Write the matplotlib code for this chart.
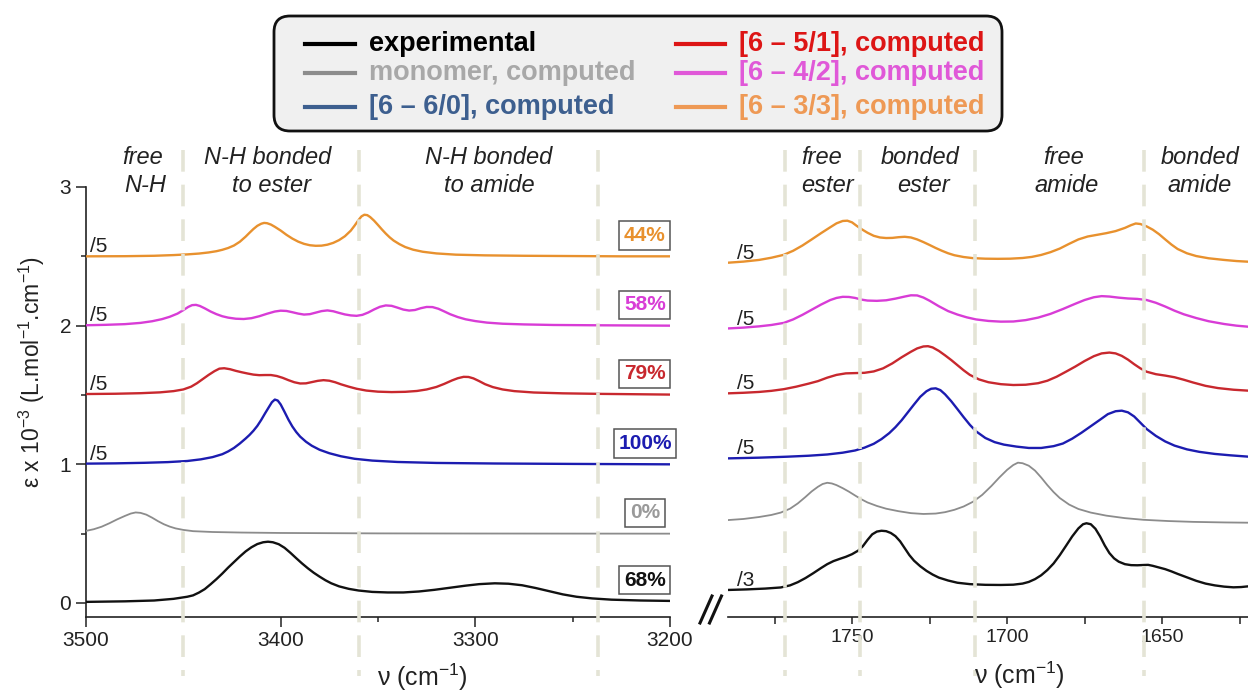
import matplotlib
matplotlib.use("Agg")
import matplotlib.pyplot as plt
from matplotlib.lines import Line2D
from matplotlib.patches import FancyBboxPatch
import matplotlib.transforms as mtransforms
from matplotlib.ticker import FixedLocator

plt.rcParams['font.family'] = ['Liberation Sans', 'DejaVu Sans']
plt.rcParams['mathtext.fontset'] = 'custom'
plt.rcParams['mathtext.rm'] = 'Liberation Sans'
plt.rcParams['mathtext.it'] = 'Liberation Sans:italic'
plt.rcParams['mathtext.bf'] = 'Liberation Sans:bold'

# ---------------- data: N-H stretching region (left panel) ----------------
nh_33_x = [3500, 3480, 3465, 3455, 3448, 3442, 3437, 3433, 3430, 3427, 3424, 3421, 3418, 3416,
           3414, 3412, 3410, 3408.5, 3407, 3405, 3403, 3400, 3397, 3394, 3391, 3388, 3385, 3382,
           3379, 3376, 3373, 3370, 3367, 3364, 3362, 3360, 3358.5, 3357, 3355.5, 3354, 3352,
           3350, 3348, 3346, 3344, 3342, 3339, 3336, 3332, 3327, 3320, 3310, 3295, 3275, 3250,
           3225, 3200]
nh_33_y = [2.500, 2.501, 2.504, 2.509, 2.514, 2.520, 2.528, 2.537, 2.547, 2.560, 2.578, 2.605,
           2.642, 2.670, 2.697, 2.720, 2.735, 2.741, 2.739, 2.729, 2.713, 2.686, 2.655, 2.628,
           2.606, 2.590, 2.580, 2.576, 2.577, 2.584, 2.597, 2.617, 2.645, 2.685, 2.722, 2.762,
           2.788, 2.800, 2.797, 2.783, 2.757, 2.726, 2.694, 2.664, 2.637, 2.614, 2.588, 2.567,
           2.548, 2.533, 2.521, 2.512, 2.507, 2.504, 2.502, 2.500, 2.500]

nh_42_x = [3500, 3490, 3480, 3472, 3466, 3461, 3457, 3453, 3450, 3447.5, 3445.5, 3443.5, 3441.5,
           3439, 3436, 3433, 3430, 3427, 3423, 3419, 3415, 3411, 3407, 3403, 3400, 3397, 3394,
           3391, 3388, 3385, 3382, 3379, 3376, 3373, 3370, 3367, 3364, 3361, 3358, 3355, 3352,
           3349, 3346, 3343, 3340, 3337, 3334, 3331, 3328, 3325, 3322, 3319, 3316, 3313, 3309,
           3305, 3300, 3294, 3286, 3275, 3260, 3240, 3200]
nh_42_y = [2.003, 2.006, 2.011, 2.020, 2.032, 2.047, 2.064, 2.087, 2.112, 2.135, 2.148, 2.150,
           2.142, 2.125, 2.102, 2.083, 2.068, 2.058, 2.050, 2.048, 2.054, 2.068, 2.086, 2.102,
           2.108, 2.106, 2.097, 2.087, 2.080, 2.083, 2.094, 2.105, 2.110, 2.104, 2.092, 2.081,
           2.074, 2.071, 2.078, 2.095, 2.117, 2.136, 2.146, 2.143, 2.130, 2.116, 2.109, 2.113,
           2.126, 2.135, 2.134, 2.122, 2.103, 2.083, 2.062, 2.046, 2.033, 2.022, 2.014, 2.009,
           2.005, 2.003, 2.000]

nh_51_x = [3500, 3485, 3472, 3462, 3455, 3450, 3446, 3443, 3440, 3437, 3434, 3431.5, 3429, 3426,
           3423, 3420, 3417, 3414, 3411, 3408, 3405, 3402, 3399, 3396, 3393, 3390, 3387, 3384,
           3381, 3378, 3375, 3372, 3369, 3365, 3361, 3356, 3350, 3343, 3336, 3330, 3325, 3320,
           3316, 3312, 3309, 3306, 3303.5, 3301, 3298, 3295, 3291, 3286, 3280, 3270, 3255, 3235,
           3200]
nh_51_y = [1.507, 1.509, 1.513, 1.519, 1.528, 1.540, 1.560, 1.585, 1.615, 1.645, 1.672, 1.690,
           1.693, 1.686, 1.674, 1.664, 1.655, 1.647, 1.643, 1.644, 1.644, 1.637, 1.624, 1.607,
           1.592, 1.583, 1.584, 1.593, 1.602, 1.607, 1.603, 1.592, 1.577, 1.560, 1.545, 1.532,
           1.524, 1.521, 1.523, 1.529, 1.540, 1.558, 1.580, 1.605, 1.621, 1.631, 1.630, 1.620,
           1.600, 1.578, 1.557, 1.540, 1.528, 1.518, 1.512, 1.508, 1.503]

nh_60_x = [3500, 3485, 3470, 3458, 3448, 3441, 3435, 3430, 3427, 3424, 3421, 3418, 3416, 3414,
           3412, 3410, 3408, 3406, 3404.5, 3403, 3401.5, 3400, 3398, 3396, 3394, 3392, 3390,
           3387, 3384, 3380, 3375, 3369, 3362, 3353, 3340, 3320, 3290, 3250, 3200]
nh_60_y = [1.005, 1.007, 1.011, 1.016, 1.024, 1.036, 1.052, 1.073, 1.093, 1.118, 1.150, 1.186,
           1.212, 1.242, 1.277, 1.320, 1.368, 1.414, 1.448, 1.467, 1.460, 1.432, 1.378, 1.322,
           1.273, 1.233, 1.200, 1.163, 1.134, 1.105, 1.080, 1.058, 1.040, 1.027, 1.017, 1.010,
           1.006, 1.003, 1.000]

nh_mono_x = [3500, 3496, 3492, 3488, 3484, 3480, 3477, 3474.5, 3472, 3469, 3466, 3463, 3460,
             3457, 3454, 3450, 3445, 3435, 3420, 3400, 3350, 3300, 3200]
nh_mono_y = [0.520, 0.532, 0.550, 0.575, 0.603, 0.628, 0.645, 0.653, 0.650, 0.637, 0.615, 0.590,
             0.568, 0.551, 0.538, 0.527, 0.518, 0.512, 0.508, 0.505, 0.502, 0.501, 0.500]

nh_exp_x = [3500, 3480, 3465, 3455, 3448, 3445, 3442, 3439, 3436, 3433, 3430, 3427, 3424, 3421,
            3418, 3415, 3412, 3409, 3406.5, 3404, 3401, 3398, 3395, 3392, 3389, 3386, 3383, 3380,
            3377, 3374, 3370, 3365, 3360, 3353, 3345, 3337, 3329, 3321, 3313, 3305, 3298, 3290,
            3283, 3276, 3269, 3262, 3255, 3248, 3240, 3230, 3215, 3200]
nh_exp_y = [0.008, 0.012, 0.018, 0.030, 0.045, 0.055, 0.075, 0.100, 0.135, 0.172, 0.212, 0.255,
            0.295, 0.335, 0.372, 0.402, 0.425, 0.438, 0.442, 0.438, 0.424, 0.398, 0.362, 0.323,
            0.285, 0.250, 0.218, 0.190, 0.164, 0.142, 0.120, 0.102, 0.090, 0.080, 0.076, 0.076,
            0.083, 0.095, 0.110, 0.125, 0.136, 0.142, 0.139, 0.128, 0.108, 0.085, 0.062, 0.045,
            0.033, 0.024, 0.018, 0.015]

# ---------------- data: C=O stretching region (right panel) ----------------
co_33_x = [1790, 1785, 1780, 1776, 1772, 1769, 1766, 1763, 1760, 1757, 1755, 1753, 1751.5, 1750,
           1748.5, 1747, 1745, 1743, 1741, 1739, 1737, 1735, 1733, 1731, 1729, 1727, 1725, 1723,
           1721, 1719, 1717, 1714, 1711, 1707, 1703, 1699, 1695, 1692, 1689, 1686, 1683, 1680,
           1677, 1674, 1671, 1668, 1665, 1662, 1660, 1658.5, 1657, 1655, 1653, 1651, 1649, 1647,
           1645, 1642, 1639, 1635, 1630, 1626, 1622]
co_33_y = [2.454, 2.462, 2.474, 2.490, 2.511, 2.540, 2.578, 2.622, 2.667, 2.710, 2.738, 2.755,
           2.757, 2.745, 2.720, 2.697, 2.670, 2.648, 2.636, 2.632, 2.633, 2.638, 2.641, 2.636,
           2.622, 2.603, 2.582, 2.560, 2.540, 2.522, 2.508, 2.495, 2.487, 2.483, 2.482, 2.483,
           2.488, 2.496, 2.510, 2.530, 2.556, 2.590, 2.622, 2.643, 2.655, 2.667, 2.682, 2.705,
           2.725, 2.737, 2.733, 2.716, 2.692, 2.660, 2.622, 2.585, 2.553, 2.522, 2.502, 2.486,
           2.474, 2.466, 2.461]

co_42_x = [1790, 1785, 1780, 1776, 1772, 1769, 1766, 1763, 1760, 1757, 1755, 1753, 1751, 1749,
           1747, 1745, 1742, 1739, 1736, 1733, 1731, 1729, 1727, 1725, 1722, 1719, 1716, 1713,
           1710, 1706, 1702, 1698, 1694, 1690, 1686, 1682, 1678, 1675, 1672, 1669.5, 1667, 1664,
           1661, 1658, 1655, 1652, 1649, 1646, 1643, 1639, 1635, 1630, 1626, 1622]
co_42_y = [1.980, 1.986, 1.995, 2.005, 2.020, 2.045, 2.078, 2.115, 2.152, 2.185, 2.200, 2.208,
           2.207, 2.200, 2.188, 2.181, 2.179, 2.183, 2.195, 2.210, 2.219, 2.218, 2.203, 2.180,
           2.140, 2.105, 2.080, 2.060, 2.045, 2.034, 2.029, 2.030, 2.040, 2.058, 2.085, 2.120,
           2.158, 2.185, 2.205, 2.213, 2.210, 2.202, 2.196, 2.193, 2.185, 2.165, 2.138, 2.108,
           2.082, 2.055, 2.032, 2.012, 2.000, 1.992]

co_51_x = [1790, 1785, 1780, 1776, 1772, 1768, 1764, 1761, 1758, 1755, 1752, 1749, 1746, 1743,
           1740, 1737, 1734, 1731, 1729, 1727, 1725.5, 1724, 1722, 1720, 1718, 1716, 1714, 1712,
           1709, 1706, 1702, 1698, 1694, 1690, 1687, 1684, 1681, 1678, 1675, 1672, 1669.5, 1667,
           1665, 1663, 1661, 1659, 1657, 1655, 1652, 1649, 1646, 1643, 1640, 1636, 1632, 1627,
           1622]
co_51_y = [1.512, 1.516, 1.522, 1.530, 1.542, 1.560, 1.582, 1.600, 1.625, 1.645, 1.656, 1.658,
           1.660, 1.670, 1.692, 1.728, 1.772, 1.812, 1.836, 1.850, 1.852, 1.843, 1.818, 1.786,
           1.752, 1.715, 1.678, 1.645, 1.612, 1.592, 1.578, 1.572, 1.574, 1.585, 1.603, 1.632,
           1.668, 1.705, 1.745, 1.780, 1.800, 1.806, 1.800, 1.782, 1.755, 1.722, 1.692, 1.668,
           1.650, 1.640, 1.628, 1.610, 1.590, 1.566, 1.550, 1.538, 1.531]

co_60_x = [1790, 1780, 1771, 1764, 1758, 1753, 1749, 1746, 1743, 1740.5, 1738, 1736, 1734, 1732,
           1730, 1728, 1726, 1724.5, 1723, 1721.5, 1720, 1718, 1716, 1714, 1712, 1710, 1707,
           1704, 1701, 1697, 1693, 1689, 1685, 1682, 1679, 1676, 1673, 1670, 1667.5, 1665, 1663,
           1661, 1659, 1657, 1655, 1652, 1649, 1646, 1642, 1638, 1633, 1628, 1622]
co_60_y = [1.043, 1.048, 1.055, 1.062, 1.071, 1.084, 1.100, 1.120, 1.148, 1.182, 1.225, 1.268,
           1.318, 1.375, 1.432, 1.487, 1.527, 1.545, 1.548, 1.535, 1.505, 1.455, 1.398, 1.340,
           1.285, 1.238, 1.190, 1.160, 1.142, 1.128, 1.118, 1.118, 1.131, 1.150, 1.185, 1.228,
           1.275, 1.322, 1.362, 1.383, 1.387, 1.375, 1.345, 1.300, 1.255, 1.205, 1.165, 1.135,
           1.108, 1.090, 1.075, 1.065, 1.055]

co_mono_x = [1790, 1785, 1780, 1776, 1773, 1770, 1767.5, 1765, 1763, 1761, 1759.5, 1758, 1756.5,
             1755, 1753, 1751, 1749, 1747, 1745, 1742, 1739, 1735, 1731, 1727, 1723, 1720, 1717,
             1714, 1711, 1708, 1705, 1702.5, 1700, 1698, 1696.5, 1695, 1693, 1691, 1689, 1687,
             1685, 1683, 1680, 1677, 1673, 1668, 1662, 1656, 1648, 1640, 1630, 1622]
co_mono_y = [0.598, 0.606, 0.620, 0.635, 0.652, 0.680, 0.718, 0.765, 0.805, 0.838, 0.858, 0.867,
             0.862, 0.850, 0.828, 0.803, 0.775, 0.748, 0.725, 0.700, 0.680, 0.662, 0.648, 0.642,
             0.645, 0.655, 0.672, 0.696, 0.730, 0.780, 0.845, 0.905, 0.960, 0.995, 1.012, 1.008,
             0.990, 0.955, 0.905, 0.850, 0.800, 0.757, 0.710, 0.678, 0.652, 0.630, 0.612, 0.600,
             0.591, 0.585, 0.581, 0.579]

co_exp_x = [1790, 1784, 1778, 1773, 1770, 1767.5, 1765, 1762.5, 1760, 1758, 1756, 1754, 1752,
            1750, 1748, 1746.5, 1745, 1743.5, 1742, 1740.5, 1739, 1737.5, 1736, 1734.5, 1733,
            1731.5, 1730, 1728, 1726, 1724, 1722, 1719, 1716, 1712, 1707, 1702, 1698, 1695, 1693,
            1691, 1689, 1687, 1685, 1683, 1681, 1679, 1677, 1675.5, 1674.4, 1673, 1671.5, 1670,
            1668.5, 1667, 1665.5, 1664, 1662, 1660, 1658, 1656, 1654.5, 1653, 1651, 1649, 1647,
            1645, 1642, 1639, 1636, 1633, 1630, 1627, 1624.5, 1622.3]
co_exp_y = [0.094, 0.098, 0.104, 0.112, 0.127, 0.150, 0.180, 0.215, 0.252, 0.280, 0.302, 0.318,
            0.333, 0.352, 0.378, 0.410, 0.455, 0.495, 0.515, 0.521, 0.518, 0.505, 0.482, 0.445,
            0.395, 0.345, 0.305, 0.265, 0.232, 0.205, 0.183, 0.162, 0.146, 0.136, 0.131, 0.130,
            0.132, 0.140, 0.152, 0.172, 0.200, 0.238, 0.285, 0.345, 0.412, 0.480, 0.538, 0.568,
            0.575, 0.568, 0.535, 0.480, 0.415, 0.360, 0.322, 0.298, 0.280, 0.273, 0.272, 0.274,
            0.275, 0.268, 0.256, 0.244, 0.228, 0.210, 0.185, 0.160, 0.140, 0.127, 0.118, 0.113,
            0.115, 0.120]

# ---------------- labels / categories ----------------
series_names = ["[6 \u2013 3/3], computed", "[6 \u2013 4/2], computed", "[6 \u2013 5/1], computed",
                "[6 \u2013 6/0], computed", "monomer, computed", "experimental"]
percent_labels = ["44%", "58%", "79%", "100%", "0%", "68%"]
nh_scale_labels = ["/5", "/5", "/5", "/5", "", ""]
co_scale_labels = ["/5", "/5", "/5", "/5", "", "/3"]
nh_bounds = [3450, 3360, 3237]
co_bounds = [1771.5, 1747.5, 1710.5, 1656]
nh_xticks = [3500, 3400, 3300, 3200]
nh_xminor = [3450, 3350, 3250]
co_xticks = [1750, 1700, 1650]
co_xminor = [1775, 1725, 1675, 1625]
y_ticks = [0, 1, 2, 3]
y_minor = [0.5, 1.5, 2.5]

line_colors = ["#E8912E", "#D83CD6", "#C8282E", "#1C1CB0", "#8C8C8C", "#111111"]
pct_colors = ["#E8912E", "#D83CD6", "#C8282E", "#1C1CB0", "#9A9A9A", "#111111"]
legend_colors = ["#EE9955", "#E058D8", "#DD1515", "#3D5F8F", "#A8A8A8", "#000000"]
legend_line_colors = ["#EE9955", "#E058D8", "#DD1515", "#3D5F8F", "#8C8C8C", "#000000"]

nh_series = [(nh_33_x, nh_33_y), (nh_42_x, nh_42_y), (nh_51_x, nh_51_y),
             (nh_60_x, nh_60_y), (nh_mono_x, nh_mono_y), (nh_exp_x, nh_exp_y)]
co_series = [(co_33_x, co_33_y), (co_42_x, co_42_y), (co_51_x, co_51_y),
             (co_60_x, co_60_y), (co_mono_x, co_mono_y), (co_exp_x, co_exp_y)]

# ---------------- figure ----------------
W, H, DPI = 1248, 691, 100
fig = plt.figure(figsize=(W / DPI, H / DPI), dpi=DPI)
fig.patch.set_facecolor("white")
PT = fig.dpi_scale_trans


def P(px, py):
    return px / DPI, (H - py) / DPI


axL = fig.add_axes([86 / W, 1 - 617 / H, 584 / W, 430 / H])
axR = fig.add_axes([728 / W, 1 - 617 / H, 520 / W, 430 / H])

for ax in (axL, axR):
    ax.set_facecolor("none")
    ax.set_ylim(-0.101, 3.0)
    for s in ("top", "right"):
        ax.spines[s].set_visible(False)
    ax.spines["bottom"].set_linewidth(1.2)
    ax.spines["left"].set_linewidth(1.2)
    ax.spines["bottom"].set_color("#222222")
    ax.spines["left"].set_color("#222222")

axL.set_xlim(3500, 3200)
axR.set_xlim(1790, 1622.3)
axR.spines["left"].set_visible(False)

for i, (xs, ys) in enumerate(nh_series):
    lw = 1.3 if i == 4 else 1.7
    axL.plot(xs, ys, color=line_colors[i], lw=lw, solid_joinstyle="round", zorder=3)
for i, (xs, ys) in enumerate(co_series):
    lw = 1.3 if i == 4 else 1.7
    axR.plot(xs, ys, color=line_colors[i], lw=lw, solid_joinstyle="round", zorder=3)

# ticks
axL.xaxis.set_major_locator(FixedLocator(nh_xticks))
axL.xaxis.set_minor_locator(FixedLocator(nh_xminor))
axL.yaxis.set_major_locator(FixedLocator(y_ticks))
axL.yaxis.set_minor_locator(FixedLocator(y_minor))
axL.set_xticklabels([str(t) for t in nh_xticks])
axL.set_yticklabels([str(t) for t in y_ticks])
axL.tick_params(axis="x", which="major", direction="out", length=7.2, width=1.1,
                labelsize=15, pad=3, colors="#222222")
axL.tick_params(axis="x", which="minor", direction="out", length=3.6, width=1.1, colors="#222222")
axL.tick_params(axis="y", which="major", direction="out", length=7.2, width=1.1,
                labelsize=15, pad=3.5, colors="#222222")
axL.tick_params(axis="y", which="minor", direction="out", length=3.6, width=1.1, colors="#222222")

axR.xaxis.set_major_locator(FixedLocator(co_xticks))
axR.xaxis.set_minor_locator(FixedLocator(co_xminor))
axR.set_xticklabels([str(t) for t in co_xticks])
axR.tick_params(axis="x", which="both", direction="out", length=5, width=1.1,
                labelsize=14, pad=4, colors="#222222")
axR.tick_params(axis="y", which="both", left=False, labelleft=False)

# scale factor labels
for i, (xs, ys) in enumerate(nh_series):
    if nh_scale_labels[i]:
        axL.text(3498, ys[0] + 0.028, nh_scale_labels[i], ha="left", va="baseline",
                 fontsize=15, color="#222222", zorder=4)
for i, (xs, ys) in enumerate(co_series):
    if co_scale_labels[i]:
        axR.text(1787, ys[0] + 0.028, co_scale_labels[i], ha="left", va="baseline",
                 fontsize=15, color="#222222", zorder=4)

# percentage boxes
for i, (xs, ys) in enumerate(nh_series):
    axL.text(3212.9, ys[-1] + 0.15, percent_labels[i], ha="center", va="center",
             fontsize=15, fontweight="bold", color=pct_colors[i], zorder=6,
             bbox=dict(boxstyle="square,pad=0.22", fc="white", ec="#555555", lw=1.1))

# dashed region separators
bl = mtransforms.blended_transform_factory(axL.transData, PT)
br = mtransforms.blended_transform_factory(axR.transData, PT)
y0, y1 = (H - 150) / DPI, (H - 676) / DPI
for xb in nh_bounds:
    axL.add_line(Line2D([xb, xb], [y0, y1], transform=bl, color="#E4E4D6", lw=2.6,
                        linestyle=(0, (6, 3.6)), clip_on=False, zorder=5))
for xb in co_bounds:
    axR.add_line(Line2D([xb, xb], [y0, y1], transform=br, color="#E4E4D6", lw=2.6,
                        linestyle=(0, (6, 3.6)), clip_on=False, zorder=5))

# region labels
region_texts = [("free", 143, 158), ("N-H", 145, 185), ("N-H bonded", 268, 158),
                ("to ester", 272, 185), ("N-H bonded", 489, 158), ("to amide", 489, 185),
                ("free", 822, 158), ("ester", 828, 185), ("bonded", 920, 158),
                ("ester", 924, 185), ("free", 1064, 158), ("amide", 1067, 185),
                ("bonded", 1200, 158), ("amide", 1200, 185)]
for s, px, py in region_texts:
    fig.text(*P(px, py), s, transform=PT, ha="center", va="center", fontsize=17,
             style="italic", color="#222222")

# axis labels
fig.text(*P(32, 372), r"$\mathregular{\varepsilon}$ x 10$^{-3}$ (L.mol$^{-1}$.cm$^{-1}$)",
         transform=PT, rotation=90, ha="center", va="center", fontsize=16.5, color="#222222")
fig.text(*P(422, 677), "\u03bd (cm$^{-1}$)", transform=PT, ha="center", va="center",
         fontsize=18, color="#222222")
fig.text(*P(1019, 675), "\u03bd (cm$^{-1}$)", transform=PT, ha="center", va="center",
         fontsize=18, color="#222222")

# axis break mark
for (xa, ya, xb2, yb) in [(700, 623, 712, 596), (709.5, 623, 721.5, 596)]:
    fig.add_artist(Line2D([xa / DPI, xb2 / DPI], [(H - ya) / DPI, (H - yb) / DPI],
                          transform=PT, color="#111111", lw=2.2))

# legend
box_x0, box_y0, box_x1, box_y1 = 274, 16, 1002, 131
fig.add_artist(FancyBboxPatch(P(box_x0, box_y1), (box_x1 - box_x0) / DPI,
                              (box_y1 - box_y0) / DPI, transform=PT,
                              boxstyle="round,pad=0,rounding_size=0.16",
                              fc="#F0F0F0", ec="#111111", lw=2.0, zorder=1))
legend_layout = [  # (series index, line x0, line x1, text x, row y)
    (5, 305, 355, 369, 44), (4, 305, 355, 369, 73), (3, 305, 355, 369, 107),
    (2, 676, 725, 739, 44), (1, 676, 725, 739, 73), (0, 676, 725, 739, 107)]
for idx, lx0, lx1, tx, ry in legend_layout:
    fig.add_artist(Line2D([lx0 / DPI, lx1 / DPI], [(H - ry) / DPI, (H - ry) / DPI],
                          transform=PT, color=legend_line_colors[idx], lw=3.0, zorder=2))
    fig.text(*P(tx, ry), series_names[idx], transform=PT, ha="left", va="center",
             fontsize=19.5, fontweight="bold", color=legend_colors[idx], zorder=3)

fig.savefig("out.png", dpi=DPI)
